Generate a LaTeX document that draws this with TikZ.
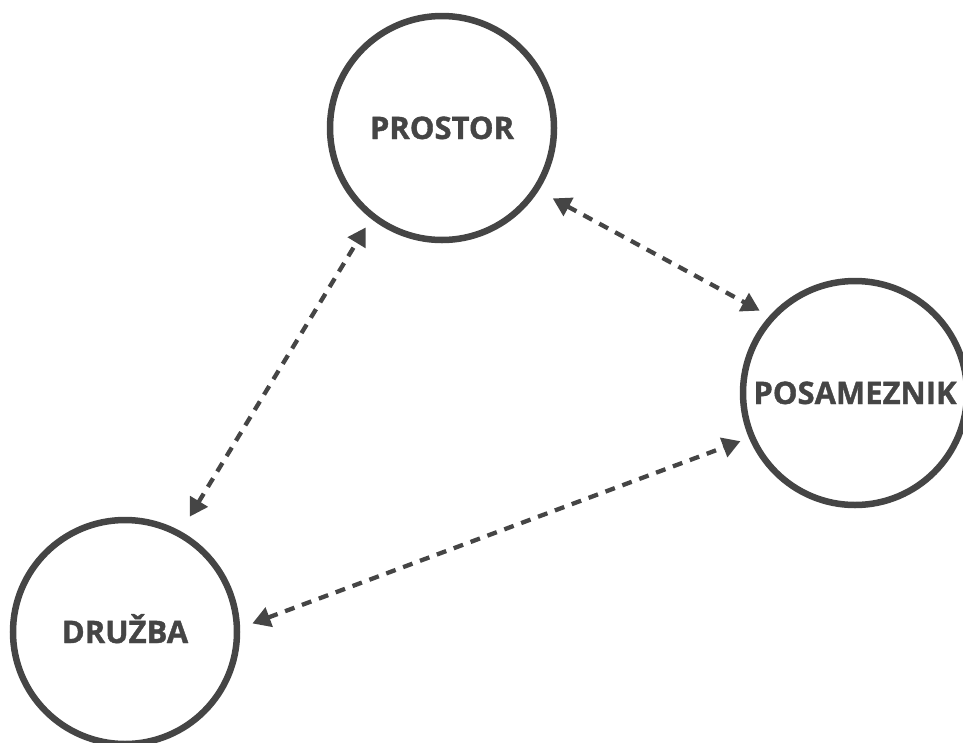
\documentclass[tikz,border=0pt]{standalone}
\usepackage{fontspec}
\setmainfont{Open Sans}[BoldFeatures={FakeBold=1.2}]
\usetikzlibrary{arrows.meta}
\definecolor{ink}{HTML}{454545}

\begin{document}
\begin{tikzpicture}[x=1pt, y=-1pt,
    bubble/.style={circle, draw=ink, line width=6.5pt, minimum size=224pt, inner sep=0pt,
        text=ink, font=\fontsize{31}{37}\selectfont\bfseries, text height=22pt, text depth=0pt},
    link/.style={ink, line width=4.3pt, dash pattern=on 10pt off 8pt,
        {Triangle[length=18pt, width=20pt]}-{Triangle[length=18pt, width=20pt]}}]
    \useasboundingbox (0, 0) rectangle (963, 742);

    % The three circles
    \node[bubble] (prostor) at (442, 128) {PROSTOR};
    \node[bubble] (posameznik) at (855, 393) {POSAMEZNIK};
    \node[bubble] (druzba) at (125, 632) {DRUŽBA};

    % Dashed two-way links between them
    \draw[link, shorten <=17pt, shorten >=10pt] (druzba.61) -- (prostor.232);
    \draw[link, shorten <=16pt, shorten >=11pt] (prostor.327) -- (posameznik.138);
    \draw[link, shorten <=13pt, shorten >=9pt] (druzba.2) -- (posameznik.203);
\end{tikzpicture}
\end{document}
